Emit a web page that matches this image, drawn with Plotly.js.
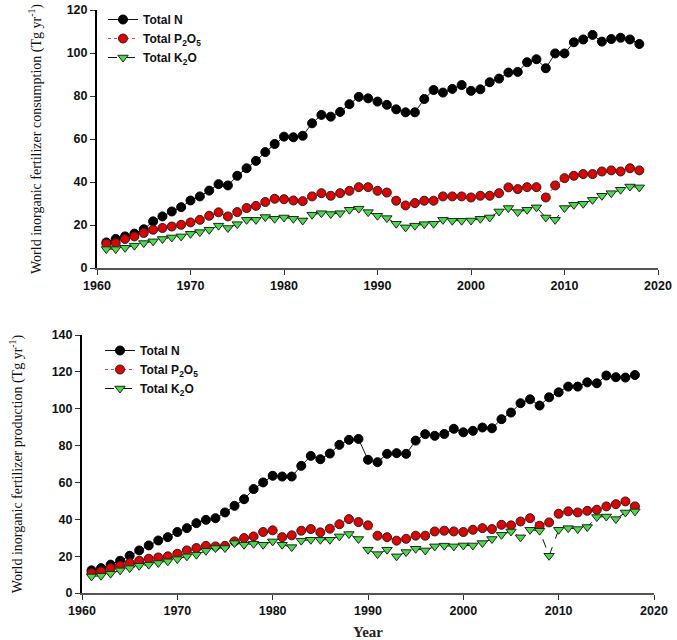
<!DOCTYPE html>
<html>
<head>
<meta charset="utf-8">
<script src="https://cdn.plot.ly/plotly-3.0.1.min.js"></script>
<style>html,body{margin:0;padding:0;background:#fff;}#chart{width:677px;height:640px;}</style>
</head>
<body>
<div id="chart"></div>
<script>
// Years 1961-2018
var years = [];
for (var y = 1961; y <= 2018; y++) years.push(y);

// Consumption (Tg yr-1)
var consN = [11.9,13.5,14.7,16.0,18.0,21.7,24.0,26.3,28.3,31.4,33.3,36.0,39.0,38.4,42.9,46.4,49.8,53.9,57.7,61.1,60.8,61.5,67.3,71.2,70.4,72.6,76.2,79.6,78.9,77.4,75.9,73.8,72.4,72.4,78.6,82.8,81.6,83.3,85.1,82.4,83.1,86.4,88.1,90.9,91.2,95.7,97.1,92.9,99.8,99.8,105.0,106.3,108.4,105.3,106.5,107.1,106.3,104.2];
var consP = [11.3,11.6,13.5,14.7,16.3,17.8,18.6,19.3,20.1,21.2,22.4,24.3,25.9,24.0,26.0,27.9,28.9,30.7,32.2,32.0,31.4,31.1,33.3,34.8,33.6,34.8,35.9,37.6,37.6,35.9,35.1,31.3,29.1,30.2,31.3,31.3,33.3,33.3,33.3,32.8,33.6,33.6,34.8,37.5,36.7,37.6,37.6,32.8,38.4,41.8,42.9,43.7,43.7,44.9,45.4,44.9,46.4,45.4];
var consK = [8.8,8.8,9.4,10.4,11.6,12.4,13.5,14.2,14.7,15.9,16.7,17.8,19.7,18.6,20.4,22.4,22.4,23.7,22.9,23.5,22.9,22.1,24.8,25.5,25.1,25.5,27.1,27.6,26.0,24.3,23.2,20.6,18.9,19.7,20.4,20.6,22.4,22.0,22.0,22.1,22.9,23.5,26.3,27.9,26.0,27.1,28.2,23.5,22.4,27.9,29.4,29.9,31.7,33.6,34.8,36.4,37.9,37.5];

// Production (Tg yr-1)
var prodN = [12.3,13.5,15.4,17.5,20.2,23.1,25.8,28.5,30.3,33.1,35.2,37.9,39.7,40.6,43.7,47.3,50.9,56.4,60.0,63.6,63.2,63.2,69.0,74.4,72.6,75.7,80.4,83.1,83.6,72.3,71.0,75.5,75.9,75.5,82.7,86.2,85.3,86.3,89.1,87.2,88.0,89.8,89.4,94.3,97.9,103.0,105.1,101.7,106.2,108.9,112.0,112.0,114.3,113.8,118.0,117.1,116.9,118.3];
var prodP = [10.8,11.7,13.5,14.8,16.3,17.5,18.6,19.3,19.9,21.3,23.1,24.4,25.6,25.3,25.6,28.0,29.8,30.7,33.1,34.0,30.3,31.3,33.8,34.7,32.9,34.9,37.3,40.1,38.5,36.7,31.1,30.3,28.4,29.4,31.1,31.1,33.4,33.8,33.4,33.1,34.3,35.2,34.7,37.0,36.7,38.8,40.6,36.5,38.3,43.0,44.3,43.7,44.6,45.2,47.0,48.2,49.7,47.0];
var prodK = [9.0,9.4,10.5,12.3,13.5,14.8,15.4,16.3,17.2,18.4,19.9,20.8,22.9,24.4,24.4,27.1,26.2,26.7,26.2,28.0,26.2,24.9,28.4,28.9,28.9,28.9,30.7,32.0,29.3,23.5,21.1,23.5,19.9,22.2,24.0,23.1,25.3,25.7,25.3,25.8,25.8,27.1,29.3,31.6,33.4,30.2,34.3,33.8,20.2,34.3,35.2,34.7,35.8,41.2,41.5,40.1,43.7,44.3];

var seriesNames = ['Total N', 'Total P<sub>2</sub>O<sub>5</sub>', 'Total K<sub>2</sub>O'];
var xTicks = [1960, 1970, 1980, 1990, 2000, 2010, 2020];

var W = 677, H = 640;
function px(x) { return x / W; }
function py(y) { return 1 - y / H; }

function mk(xs, ys, idx, xa, ya, lg) {
  var styles = [
    {line: {color: '#111', width: 1, dash: 'solid'}, marker: {symbol: 'circle', size: 9, color: '#000', line: {color: '#000', width: 1}}},
    {line: {color: '#e04040', width: 1, dash: 'dot'}, marker: {symbol: 'circle', size: 9, color: '#e00000', line: {color: '#222', width: 1}}},
    {line: {color: '#111', width: 1, dash: 'dash'}, marker: {symbol: 'triangle-down', size: 9, color: '#44dd44', line: {color: '#222', width: 1}}}
  ];
  return {
    x: xs, y: ys, type: 'scatter', mode: 'lines+markers',
    name: seriesNames[idx], xaxis: xa, yaxis: ya, legend: lg,
    line: styles[idx].line, marker: styles[idx].marker, showlegend: true
  };
}

var data = [
  mk(years, consN, 0, 'x', 'y', 'legend'),
  mk(years, consP, 1, 'x', 'y', 'legend'),
  mk(years, consK, 2, 'x', 'y', 'legend'),
  mk(years, prodN, 0, 'x2', 'y2', 'legend2'),
  mk(years, prodP, 1, 'x2', 'y2', 'legend2'),
  mk(years, prodK, 2, 'x2', 'y2', 'legend2')
];

var tickFont = {family: 'Liberation Sans, Arial, sans-serif', size: 12.5, color: '#111', weight: 'bold'};
var titleFont = {family: 'Liberation Serif, Times New Roman, serif', size: 14, color: '#111'};

function xAxis(dom, anchor, title) {
  var a = {
    domain: dom, anchor: anchor, range: [1960, 2020], tickvals: xTicks,
    showgrid: false, zeroline: false, showline: true, linecolor: '#555', linewidth: 1.5,
    ticks: 'outside', ticklen: 5, tickcolor: '#333', tickfont: tickFont
  };
  if (title) a.title = {text: title, font: {family: 'Liberation Serif, Times New Roman, serif', size: 15, color: '#222', weight: 'bold'}, standoff: 10};
  return a;
}
function yAxis(dom, anchor, range, dtick, title, standoff) {
  return {
    domain: dom, anchor: anchor, range: range, dtick: dtick, tick0: 0,
    showgrid: false, zeroline: false, showline: true, linecolor: '#000', linewidth: 2,
    ticks: 'outside', ticklen: 5, tickcolor: '#333', tickfont: tickFont,
    title: {text: title, font: titleFont, standoff: standoff}
  };
}

var legendFont = {family: 'Liberation Sans, Arial, sans-serif', size: 12, color: '#111', weight: 'bold'};

var layout = {
  width: W, height: H,
  margin: {l: 0, r: 0, t: 0, b: 0},
  paper_bgcolor: '#fff', plot_bgcolor: '#fff',
  showlegend: true,
  xaxis: xAxis([px(97), px(658)], 'y', null),
  yaxis: yAxis([py(268), py(10)], 'x', [0, 120], 20, 'World inorganic fertilizer consumption (Tg yr<sup>-1</sup>)', 22),
  xaxis2: xAxis([px(82), px(654)], 'y2', 'Year'),
  yaxis2: yAxis([py(593), py(335)], 'x2', [0, 140], 20, 'World inorganic fertilizer production (Tg yr<sup>-1</sup>)', 26),
  legend: {
    x: px(103), y: py(5), xanchor: 'left', yanchor: 'top',
    bgcolor: 'rgba(0,0,0,0)', borderwidth: 0, tracegroupgap: 0,
    font: legendFont
  },
  legend2: {
    x: px(100), y: py(336), xanchor: 'left', yanchor: 'top',
    bgcolor: 'rgba(0,0,0,0)', borderwidth: 0, tracegroupgap: 0,
    font: legendFont
  }
};

Plotly.newPlot('chart', data, layout, {displayModeBar: false, staticPlot: true});
</script>
</body>
</html>
